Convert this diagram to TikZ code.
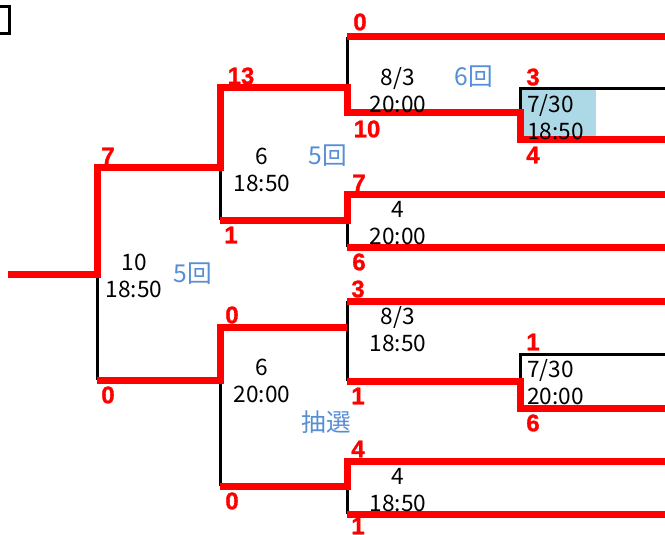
\documentclass[tikz,border=0pt]{standalone}
\usepackage{fontspec}
\setmainfont{Noto Sans CJK JP}
\newfontfamily\scorefont{Liberation Sans}[BoldFeatures={FakeBold=1.2}]
\definecolor{roundblue}{RGB}{85,142,213}
\definecolor{datebg}{RGB}{173,216,230}
\tikzset{
  win/.style={draw=red, line width=5.25pt, line join=miter},
  open/.style={draw=black, line width=2.25pt},
  score/.style={text=red, font=\scorefont\bfseries\fontsize{18}{20}\selectfont, inner sep=0pt, anchor=center},
  game/.style={text=black, font=\fontsize{17}{20.25}\selectfont, align=center, inner sep=0pt, anchor=center},
  gameleft/.style={game, align=left, anchor=west},
  rnd/.style={text=roundblue, font=\fontsize{18.5}{22}\selectfont, inner sep=0pt, anchor=center}
}
\begin{document}
\begin{tikzpicture}[x=0.75pt,y=-0.75pt]
\useasboundingbox (0,0) rectangle (665,535);
% corner fragment
\draw[line width=2.25pt] (0,7) -- (9,7) -- (9,34) -- (0,34);
% coordinates
\coordinate (E) at (665,0);
\coordinate (r0) at (8,274);
\coordinate (m1) at (97,274); \coordinate (t1) at (97,168); \coordinate (b1) at (97,380);
\coordinate (m2a) at (220,168); \coordinate (t2a) at (220,88); \coordinate (b2a) at (220,220);
\coordinate (m2b) at (220,380); \coordinate (t2b) at (220,327); \coordinate (b2b) at (220,486);
\coordinate (m3a) at (347,88); \coordinate (t3a) at (347,37); \coordinate (b3a) at (347,113);
\coordinate (m3b) at (347,220); \coordinate (t3b) at (347,195); \coordinate (b3b) at (347,247);
\coordinate (m3c) at (347,327); \coordinate (t3c) at (347,301); \coordinate (b3c) at (347,381);
\coordinate (m3d) at (347,486); \coordinate (t3d) at (347,461); \coordinate (b3d) at (347,514);
\coordinate (m4a) at (520,113); \coordinate (t4a) at (520,89); \coordinate (b4a) at (520,140);
\coordinate (m4c) at (520,381); \coordinate (t4c) at (520,354); \coordinate (b4c) at (520,408);
% highlighted date box
\fill[datebg] (520,89) rectangle (596,138);
% open (black) lines
\draw[open] (m1) -- (b1);
\draw[open] (m2a) -- (b2a);
\draw[open] (m2b) -- (b2b);
\draw[open] (m3a) -- (t3a);
\draw[open] (m3b) -- (b3b);
\draw[open] (t3c) -- (b3c);
\draw[open] (m3d) -- (b3d);
\draw[open] (m4a) -- (t4a) -- (t4a -| E);
\draw[open] (m4c) -- (t4c) -- (t4c -| E);
% winning (red) lines
\draw[win] (r0) -- (m1) -- (t1) -- (m2a) -- (t2a) -- (m3a) -- (b3a) -- (m4a) -- (b4a) -- (b4a -| E);
\draw[win] (b1) -- (m2b) -- (t2b) -- (m3c);
\draw[win] (b2a) -- (m3b) -- (t3b) -- (t3b -| E);
\draw[win] (b2b) -- (m3d) -- (t3d) -- (t3d -| E);
\draw[win] (t3a) -- (t3a -| E);
\draw[win] (b3b) -- (b3b -| E);
\draw[win] (t3c) -- (t3c -| E);
\draw[win] (b3c) -- (m4c) -- (b4c) -- (b4c -| E);
\draw[win] (b3d) -- (b3d -| E);
% scores
\node[score] (s1t) at (108,156) {7};
\node[score] (s1b) at (108,395) {0};
\node[score] (s2at) at (241,76) {13};
\node[score] (s2ab) at (231,235) {1};
\node[score] (s2bt) at (232,315) {0};
\node[score] (s2bb) at (232,501) {0};
\node[score] (s3at) at (360,22) {0};
\node[score] (s3ab) at (367,129) {10};
\node[score] (s3bt) at (359,183) {7};
\node[score] (s3bb) at (359,262) {6};
\node[score] (s3ct) at (358,289) {3};
\node[score] (s3cb) at (358,396) {1};
\node[score] (s3dt) at (358,449) {4};
\node[score] (s3db) at (358,526) {1};
\node[score] (s4at) at (533,77) {3};
\node[score] (s4ab) at (533,155) {4};
\node[score] (s4ct) at (533,342) {1};
\node[score] (s4cb) at (533,423) {6};
% game info
\node[game] (g1) at (134,276) {10\\18:50};
\node[game] (g2a) at (262,170) {6\\18:50};
\node[game] (g2b) at (262,381) {6\\20:00};
\node[game] (g3a) at (398,90) {8/3\\20:00};
\node[game] (g3b) at (398,223) {4\\20:00};
\node[game] (g3c) at (398,329) {8/3\\18:50};
\node[game] (g3d) at (398,490) {4\\18:50};
\node[gameleft] (g4a) at (527,117) {7/30\\18:50};
\node[gameleft] (g4c) at (527,382) {7/30\\20:00};
% innings / notes
\node[rnd] (i1) at (193,274) {5回};
\node[rnd] (i2a) at (328,156) {5回};
\node[rnd] (i2b) at (326,422) {抽選};
\node[rnd] (i3a) at (474,77) {6回};
\end{tikzpicture}
\end{document}
